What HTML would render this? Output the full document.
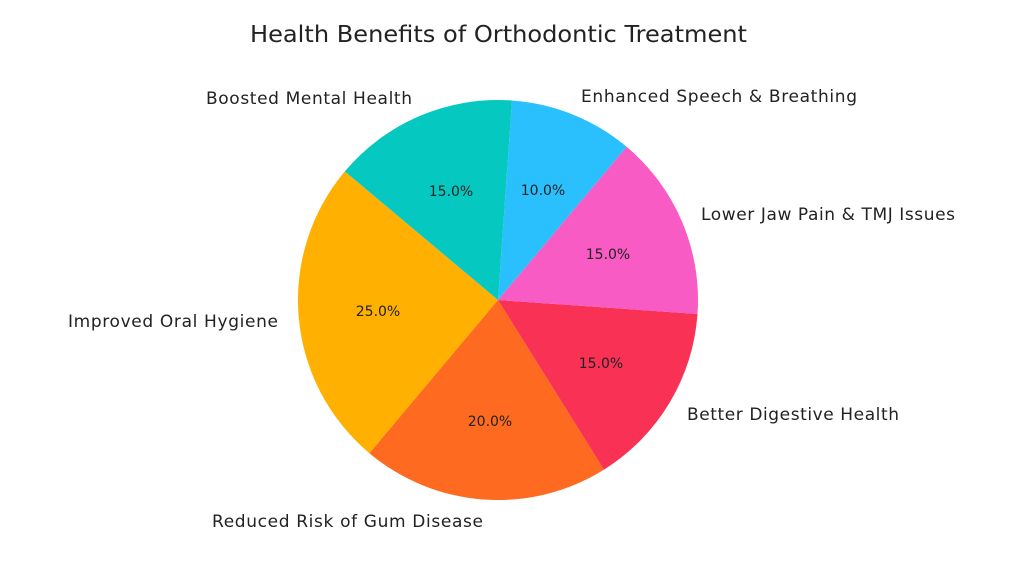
<!DOCTYPE html>
<html><head><meta charset="utf-8"><style>
html,body{margin:0;padding:0;background:#fff;}
svg{display:block;font-family:"DejaVu Sans","Liberation Sans",sans-serif;}
</style></head><body>
<svg width="1024" height="576" viewBox="0 0 1024 576" xmlns="http://www.w3.org/2000/svg">
<rect width="1024" height="576" fill="#fff"/>
<text x="250" y="42" font-size="23" fill="#222" textLength="497" lengthAdjust="spacingAndGlyphs">Health Benefits of Orthodontic Treatment</text>
<g stroke="none">
<path d="M498,300 L344.8,171.4 A200,200 0 0 0 369.4,453.2 Z" fill="#FFB000"/>
<path d="M498,300 L369.4,453.2 A200,200 0 0 0 604.0,469.6 Z" fill="#FE6A20"/>
<path d="M498,300 L604.0,469.6 A200,200 0 0 0 697.5,314.0 Z" fill="#F83155"/>
<path d="M498,300 L697.5,314.0 A200,200 0 0 0 626.6,146.8 Z" fill="#F95BC4"/>
<path d="M498,300 L626.6,146.8 A200,200 0 0 0 512.0,100.5 Z" fill="#2ABFFD"/>
<path d="M498,300 L512.0,100.5 A200,200 0 0 0 344.8,171.4 Z" fill="#05C9C0"/>
</g>
<g font-size="17" fill="#222" lengthAdjust="spacingAndGlyphs">
<text x="68" y="327" textLength="210">Improved Oral Hygiene</text>
<text x="212" y="527" textLength="271">Reduced Risk of Gum Disease</text>
<text x="687" y="420" textLength="212">Better Digestive Health</text>
<text x="701" y="220" textLength="254">Lower Jaw Pain &amp; TMJ Issues</text>
<text x="581" y="102" textLength="276">Enhanced Speech &amp; Breathing</text>
<text x="206" y="104" textLength="206">Boosted Mental Health</text>
</g>
<g font-size="14" fill="#222" text-anchor="middle">
<text x="378" y="316">25.0%</text>
<text x="490" y="426">20.0%</text>
<text x="601" y="368">15.0%</text>
<text x="608" y="259">15.0%</text>
<text x="543" y="195">10.0%</text>
<text x="451" y="196">15.0%</text>
</g>
</svg>
</body></html>
